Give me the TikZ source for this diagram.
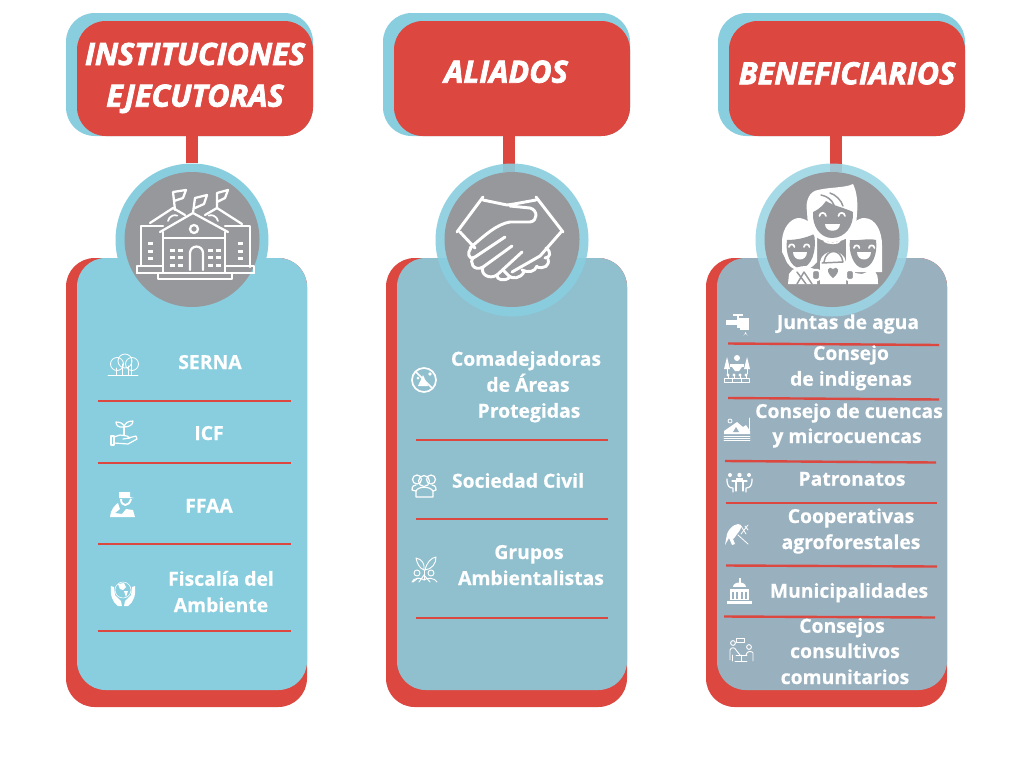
\documentclass[tikz,border=0pt]{standalone}
\usepackage{fontspec}
\setmainfont{Open Sans}[BoldFeatures={FakeBold=0.5}]
\newfontfamily\hdrfont[BoldItalicFeatures={FakeBold=2.4}]{Open Sans}
\definecolor{cred}{HTML}{DC4840}
\definecolor{cblue}{HTML}{89CEDF}
\definecolor{cbody}{HTML}{90BFCE}
\definecolor{cbodyc}{HTML}{99B0BE}
\definecolor{cgrey}{HTML}{97989C}
\tikzset{
 card/.style={rectangle,rounded corners=21.5pt,inner sep=0pt,draw=none},
 hback/.style={card,fill=cblue,minimum width=247*0.75pt,minimum height=123*0.75pt},
 hfront/.style={card,fill=cred,minimum width=236*0.75pt,minimum height=115*0.75pt},
 bback/.style={card,fill=cred,minimum width=241*0.75pt,minimum height=449*0.75pt},
 bfront/.style={card,minimum width=230*0.75pt,minimum height=432*0.75pt},
 ring/.style={circle,inner sep=0pt,minimum size=153*0.75pt},
 disc/.style={circle,inner sep=0pt,fill=cgrey,minimum size=135*0.75pt},
 link/.style={cred,line width=9pt},
 rule/.style={cred,line width=1.8pt},
 htext/.style={text=white,font=\hdrfont\fontsize{23}{26}\selectfont\bfseries\itshape,inner sep=0pt,anchor=base},
 itext/.style={text=white,font=\fontsize{14.5}{17}\selectfont\bfseries,inner sep=0pt,anchor=base},
 ico/.style={draw=white,line width=1.7pt,line cap=round,line join=round},
 ics/.style={draw=white,line width=0.6pt,line cap=round,line join=round},
 icm/.style={draw=white,line width=0.9pt,line cap=round,line join=round},
 gl/.style={draw=cgrey,line width=1.1pt,line cap=round,line join=round},
}
\begin{document}
\begin{tikzpicture}[x=0.75pt,y=-0.75pt]
\useasboundingbox (0,0) rectangle (1024,768);
\fill[white] (0,0) rectangle (1024,768);
% column 1
\node[hback] (h1b) at (189.5,74.5) {};
\node[hfront] (h1f) at (195,78.5) {};
\node[bback] (b1b) at (186.5,482.5) {};
\node[bfront,fill=cblue] (b1f) at (192,474) {};
\node[ring,fill=cblue] (r1) at (192,240) {};
\draw[link] (h1f.south -| r1) -- (r1.north);
\node[disc] (d1) at (192,239.5) {};
% column 2
\node[hback] (h2b) at (506.5,74.5) {};
\node[hfront] (h2f) at (512,78.5) {};
\node[bback] (b2b) at (506.5,482.5) {};
\node[bfront,fill=cbody] (b2f) at (512,474) {};
\coordinate (l2a) at (509,136);
\coordinate (l2b) at (509,172);
\draw[link] (l2a) -- (l2b);
\node[ring,fill=cblue,opacity=.9] (r2) at (512,240) {};
\node[disc] (d2) at (512,239.5) {};
% column 3
\node[hback] (h3b) at (841.5,74.5) {};
\node[hfront] (h3f) at (847,78.5) {};
\node[bback] (b3b) at (826.5,482.5) {};
\node[bfront,fill=cbodyc] (b3f) at (832,474) {};
\coordinate (l3a) at (836,136);
\coordinate (l3b) at (836,172);
\draw[link] (l3a) -- (l3b);
\node[ring,fill=cblue!85!white,opacity=.88] (r3) at (832,240) {};
\node[disc] (d3) at (832,239.5) {};
% headers
\node[htext] (t1a) at (195,65) {INSTITUCIONES};
\node[htext] (t1b) at (195,106.7) {EJECUTORAS};
\node[htext] (t2) at (506,82.7) {ALIADOS};
\node[htext] (t3) at (847,84.3) {BENEFICIARIOS};
% rules col 1
\coordinate (a1) at (98,401); \coordinate (a2) at (291,401);
\coordinate (a3) at (98,463); \coordinate (a4) at (291,463);
\coordinate (a5) at (98,544); \coordinate (a6) at (291,544);
\coordinate (a7) at (98,631); \coordinate (a8) at (291,631);
\draw[rule] (a1)--(a2); \draw[rule] (a3)--(a4); \draw[rule] (a5)--(a6); \draw[rule] (a7)--(a8);
% rules col 2
\coordinate (e1) at (416,440); \coordinate (e2) at (608,440);
\coordinate (e3) at (416,519); \coordinate (e4) at (608,519);
\coordinate (e5) at (416,618); \coordinate (e6) at (608,618);
\draw[rule] (e1)--(e2); \draw[rule] (e3)--(e4); \draw[rule] (e5)--(e6);
% rules col 3
\coordinate (g1) at (728,343.5); \coordinate (g2) at (939,345);
\coordinate (g3) at (728,398); \coordinate (g4) at (939,399.5);
\coordinate (g5) at (725,461); \coordinate (g6) at (936,462.5);
\coordinate (g7) at (726,503); \coordinate (g8) at (937,503);
\coordinate (g9) at (726,565.5); \coordinate (g10) at (937,566.5);
\coordinate (g11) at (724,616.5); \coordinate (g12) at (935,617.5);
\draw[rule] (g1)--(g2); \draw[rule] (g3)--(g4); \draw[rule] (g5)--(g6);
\draw[rule] (g7)--(g8); \draw[rule] (g9)--(g10); \draw[rule] (g11)--(g12);
% texts col 1
\node[itext] (s1) at (210,369) {SERNA};
\node[itext] (s2) at (209,440) {ICF};
\node[itext] (s3) at (209,512.7) {FFAA};
\node[itext] (s4) at (221,585.7) {Fiscalía del};
\node[itext] (s5) at (221,612) {Ambiente};
% texts col 2
\node[itext] (m1) at (526,365.7) {Comadejadoras};
\node[itext] (m2) at (528,391.7) {de Áreas};
\node[itext] (m3) at (529,417.7) {Protegidas};
\node[itext] (m4) at (518,487.7) {Sociedad Civil};
\node[itext] (m5) at (529,559) {Grupos};
\node[itext] (m6) at (531,585) {Ambientalistas};
% texts col 3
\node[itext] (n1) at (848,329) {Juntas de agua};
\node[itext] (n2) at (851,360) {Consejo};
\node[itext] (n3) at (851,385.7) {de indigenas};
\node[itext] (n4) at (849,418) {Consejo de cuencas};
\node[itext] (n5) at (847,443) {y microcuencas};
\node[itext] (n6) at (852,485.7) {Patronatos};
\node[itext] (n7) at (851,523) {Cooperativas};
\node[itext] (n8) at (851,549) {agroforestales};
\node[itext] (n9) at (849,597.7) {Municipalidades};
\node[itext] (n10) at (842,632.7) {Consejos};
\node[itext] (n11) at (845,658) {consultivos};
\node[itext] (n12) at (845,684) {comunitarios};
% ---------- building
\begin{scope}[ico]
\draw (163,232) -- (163,272);
\draw (225,232) -- (225,272);
\draw (160,232) -- (193,213) -- (228,232);
\draw (163,238) -- (225,238);
\draw (193,213) -- (195,198);
\draw (195,198) -- (207,195) -- (204,204) -- (195,208);
\draw (150,223) -- (173,208) -- (185,215);
\draw (205,215) -- (217,208) -- (242,224);
\draw (175,210) -- (173,192) -- (186,190) -- (183,198) -- (174,201);
\draw (217,208) -- (217,193) -- (228,190) -- (225,198) -- (217,202);
\draw (141,265) -- (141,226) -- (163,226);
\draw (250,267) -- (250,226) -- (225,226);
\draw (137,273) -- (137,266) -- (163,266);
\draw (254,273) -- (254,266) -- (225,266);
\draw (137,273) -- (158,273);
\draw (254,273) -- (232,273);
\draw (158,279) -- (232,279) -- (232,273) -- (158,273) -- cycle;
\draw (190,270) -- (190,253) arc[start angle=180,end angle=360,radius=6.5] -- (203,270);
\draw (194,229) circle[radius=4];
\end{scope}
\draw[icm,line width=1.3pt] (168,221) arc[start angle=190,end angle=290,radius=7];
\draw[icm,line width=1.3pt] (218,221) arc[start angle=-10,end angle=-110,radius=7];
\foreach \y in {250,257,265}{\foreach \x in {172,180,210,218}{\fill[white] (\x-2.5,\y-1.5) rectangle (\x+2.5,\y+1.5);}}
\foreach \y in {243,251,258}{\foreach \x in {150,240}{\fill[white] (\x-2.5,\y-1.5) rectangle (\x+2.5,\y+1.5);}}
% ---------- handshake
\begin{scope}[ico,line width=2.2pt]
\draw (457,232) -- (483,197);
\draw (536,197) -- (563,232);
\draw (483,200) -- (507,205) -- (514,204) -- (536,200);
\draw (510,206) -- (530,208) .. controls (538,210) and (538,221) .. (530,222) -- (510,222) .. controls (497,224) and (485,235) .. (470,248);
\draw (460,232) -- (475,248);
\draw (505,237) -- (475,257) .. controls (468,261) and (467,252) .. (471,248);
\draw (512,246) -- (483,267) .. controls (474,272) and (468,262) .. (474,257);
\draw (522,252) -- (497,275) .. controls (489,280) and (480,274) .. (483,267);
\draw (503,270) -- (510,277) .. controls (505,282) and (496,280) .. (497,275);
\draw (561,232) -- (540,256) -- (512,272);
\draw (546,248) .. controls (552,252) and (550,258) .. (545,258);
\draw (548,259) .. controls (550,266) and (544,269) .. (537,267);
\draw (537,266) .. controls (535,272) and (528,273) .. (522,270);
\draw (524,272) .. controls (520,279) and (512,279) .. (509,276);
\end{scope}
% ---------- family
% child (left)
\fill[white] (782,240) .. controls (783,228) and (790,219) .. (798,218) .. controls (806,218) and (813,224) .. (817,232) -- (817,262) .. controls (808,274) and (790,274) .. (785,258) -- (782,252) -- cycle;
\fill[cgrey] (787,240) .. controls (796,240) and (806,238) .. (814,234) .. controls (817,250) and (812,268) .. (800,268) .. controls (790,268) and (785,252) .. (787,240) -- cycle;
% woman (right)
\fill[white] (846,236) .. controls (850,224) and (858,218) .. (864,218) .. controls (876,218) and (882,232) .. (882,245) -- (882,272) -- (846,272) -- cycle;
\fill[cgrey] (850,240) .. controls (858,241) and (868,238) .. (876,240) .. controls (878,254) and (872,268) .. (863,268) .. controls (854,268) and (848,252) .. (850,240) -- cycle;
% man
\fill[white] (807,212) .. controls (805,200) and (810,191) .. (818,190) .. controls (830,187) and (845,188) .. (853,184) .. controls (857,192) and (858,203) .. (857,214) -- (856,226) .. controls (852,238) and (842,242) .. (832,242) .. controls (820,242) and (811,235) .. (808,226) -- cycle;
\fill[cgrey] (813,212) .. controls (820,209) and (824,204) .. (826,201) .. controls (834,206) and (845,208) .. (853,212) .. controls (854,226) and (845,238) .. (832,238) .. controls (820,238) and (812,226) .. (813,212) -- cycle;
\draw[gl] (821,195) .. controls (827,196) and (832,200) .. (834,205);
\draw[gl] (830,193) .. controls (836,195) and (841,200) .. (843,206);
% faces
\begin{scope}[ico,line width=1.3pt]
\draw (819.5,216) arc[start angle=180,end angle=360,radius=3.2];
\draw (838.5,216) arc[start angle=180,end angle=360,radius=3.2];
\draw (789,247) arc[start angle=180,end angle=360,radius=2.7];
\draw (804,247) arc[start angle=180,end angle=360,radius=2.7];
\draw (854,248) arc[start angle=180,end angle=360,radius=2.7];
\draw (869,248) arc[start angle=180,end angle=360,radius=2.7];
\end{scope}
\fill[white] (825,224) -- (840,224) .. controls (840,233) and (825,233) .. (825,224) -- cycle;
\fill[white] (793,252) -- (807,252) .. controls (807,262) and (793,262) .. (793,252) -- cycle;
\fill[white] (857,252) -- (871,252) .. controls (871,262) and (857,262) .. (857,252) -- cycle;
% bodies
\fill[white] (788,284) -- (789,274) .. controls (792,268) and (800,266) .. (806,266) -- (817,270) -- (817,284) -- cycle;
\fill[white] (848,284) -- (848,272) -- (862,274) -- (872,270) .. controls (878,272) and (878,278) .. (878,284) -- cycle;
\fill[white] (820,284) -- (820,262) .. controls (822,248) and (844,248) .. (846,262) -- (846,284) -- cycle;
\draw[gl] (824,262) .. controls (826,248) and (841,248) .. (843,262) -- (822,263);
\draw[white,line width=1.3pt] (824,241) .. controls (828,244) and (838,244) .. (840,241);
\draw[gl] (797,284) -- (804,272) -- (812,284);
\draw[gl] (797,272) -- (806,284);
\draw[white,line width=1.6pt,fill=cgrey,rounded corners=2pt] (812,270) rectangle (820,280);
\draw[white,line width=1.6pt,fill=cgrey,rounded corners=2pt] (846,270) rectangle (854,280);
\fill[cgrey] (833,278) .. controls (824,271) and (829,265) .. (833,269) .. controls (837,265) and (842,271) .. (833,278) -- cycle;
% ---------- SERNA trees
\begin{scope}[ics]
\draw (108,375) -- (138,375);
\draw (117,364) circle[radius=6.5];
\draw (125,361) circle[radius=7];
\draw (132,364) circle[radius=6.5];
\draw (116,368) -- (116,375);
\draw (122,364) -- (122,375);
\draw (128,366) -- (128,375);
\draw (131,360) -- (131,375);
\end{scope}
% ---------- ICF hand and plant
\begin{scope}[icm]
\draw (111,436) rectangle (114,445);
\draw (114,437) -- (120,435) -- (127,436) -- (130,438) -- (123,439);
\draw (128,438) -- (136,436) -- (137,439) -- (128,444) -- (114,443);
\draw (124,435) -- (124,427);
\draw (124,427) .. controls (118,428) and (116,425) .. (116,422) .. controls (121,422) and (124,424) .. (124,427);
\draw (124,427) .. controls (125,423) and (128,421) .. (133,421) .. controls (133,425) and (129,427) .. (124,427);
\end{scope}
% ---------- FFAA soldier
\fill[white] (119,492) -- (130,492) -- (130,497) -- (134,498) -- (119,498) -- cycle;
\draw[white,line width=1.4pt] (121,499) .. controls (121,507) and (129,507) .. (131,499);
\fill[white] (110,517) .. controls (110,510) and (116,504) .. (118,503) -- (120,509) -- (115,513) -- (122,514) -- (126,509) -- (133,510) -- (135,517) -- cycle;
% ---------- globe in hands
\fill[white] (111,586) .. controls (110,594) and (112,602) .. (118,606) -- (122,606) -- (121,601) -- (115,595) -- (114,587) -- cycle;
\fill[white] (135,586) .. controls (136,594) and (134,602) .. (128,606) -- (124,606) -- (125,601) -- (131,595) -- (132,587) -- cycle;
\draw[white,line width=.4pt] (123,590) circle[radius=8];
\fill[white] (118,584) -- (124,583) -- (126,587) -- (123,590) -- (120,589) -- cycle;
\fill[white] (124,591) -- (128,591) -- (126,597) -- cycle;
% ---------- no-tree sign
\begin{scope}[icm,line width=1.3pt]
\draw (424,380) circle[radius=12];
\draw (416,372) -- (432,388);
\end{scope}
\fill[white] (423,375) -- (428,386) -- (418,386) -- cycle;
\fill[white] (430,374) circle[radius=1.8];
\fill[white] (418,378) circle[radius=1.5];
% ---------- people
\begin{scope}[icm]
\draw (424,481) circle[radius=5.5];
\draw (417,479.5) circle[radius=4.5];
\draw (431,479.5) circle[radius=4.5];
\draw (416,497) -- (416,491) .. controls (418,486) and (430,486) .. (433,491) -- (433,497) -- cycle;
\draw (416,491) -- (412,490) .. controls (412,486) and (414,485) .. (416,485);
\draw (433,491) -- (436,490) .. controls (436,486) and (434,485) .. (432,485);
\end{scope}
% ---------- env groups
\begin{scope}[ics,line width=.7pt]
\draw (424,570) .. controls (419,568) and (417,563) .. (416,558) .. controls (422,559) and (425,564) .. (424,570);
\draw (425,570) .. controls (427,562) and (431,558) .. (436,557) .. controls (436,564) and (432,569) .. (425,570);
\draw (424,570) -- (424,580);
\draw (417,573) circle[radius=3];
\draw (431,573) circle[radius=3];
\draw (412,582) .. controls (413,578) and (421,577) .. (424,580) .. controls (427,577) and (435,578) .. (437,582);
\draw (413,582) -- (418,578);
\draw (419,582) -- (424,575);
\draw (430,582) -- (424,575);
\end{scope}
% ---------- tap
\fill[white] (726,320) rectangle (740,325);
\fill[white] (737,318) rectangle (749,328);
\fill[white] (740,323) rectangle (749,330);
\fill[white] (733,314) rectangle (743,316);
\fill[white] (737,314) rectangle (739,320);
\fill[white] (745.5,332) -- (743.5,336) arc[start angle=180,end angle=360,radius=2] -- cycle;
% ---------- indigenous council
\fill[white] (727,357) -- (730,369) -- (724,369) -- cycle;
\fill[white] (747,357) -- (750,369) -- (744,369) -- cycle;
\fill[white] (737,358) circle[radius=3];
\fill[white] (730,364) rectangle (744,367);
\fill[white] (732,367) -- (742,367) -- (739,371) -- (735,371) -- cycle;
\begin{scope}[ics]
\draw (724,378) rectangle (749,382);
\draw (732,378) -- (732,382);
\draw (741,378) -- (741,382);
\draw (727,369) -- (727,374);
\draw (747,369) -- (747,374);
\end{scope}
\foreach \x in {728,734,740,746}{\fill[white] (\x,375) circle[radius=1.7];\draw[white,line width=.6pt] (\x,375)--(\x,378);}
% ---------- basins
\fill[white] (724,431) -- (737,422) -- (743,427) -- (746,425) -- (750,431) -- (750,434) -- (724,434) -- cycle;
\fill[cbodyc] (733,432) -- (736,427) -- (739,432) -- cycle;
\begin{scope}[ics]
\draw (724,436) -- (750,436);
\draw (724,438) -- (750,438);
\draw (724,440) -- (750,440);
\draw (730,421) circle[radius=2];
\draw (749.5,418) -- (749.5,430);
\end{scope}
% ---------- table
\begin{scope}[icm]
\draw (732,481) -- (747,481);
\draw (736,481) -- (736,491);
\draw (743,481) -- (743,491);
\draw (727,479) .. controls (727,486) and (729,488) .. (733,488) -- (733,492);
\draw (752,479) .. controls (752,486) and (750,488) .. (746,488) -- (746,492);
\end{scope}
\fill[white] (739.5,475) circle[radius=2.2];
\fill[white] (736,477.5) rectangle (743,480);
\fill[white] (730,475) circle[radius=2];
\fill[white] (749,475) circle[radius=2];
% ---------- farmer
\fill[white] (725,545) -- (727,534) .. controls (730,526) and (738,522) .. (741,525) .. controls (742,530) and (737,533) .. (735,537) -- (733,539) -- (735,544) -- (732,545) -- (729,538) -- cycle;
\begin{scope}[ics]
\draw (738,535) -- (748,544);
\draw (741,526) -- (746,534);
\draw (745,526) -- (748,530);
\draw (748,525) -- (741,534);
\end{scope}
% ---------- town hall
\fill[white] (727,601) rectangle (752,604);
\fill[white] (730,589) rectangle (749,600);
\fill[white] (733,587) .. controls (733,581) and (746,581) .. (746,587) -- cycle;
\fill[white] (738.5,578) rectangle (740.5,583);
\foreach \x in {733,737,742,746}{\fill[cbodyc] (\x-1,592) rectangle (\x+1,599);}
\fill[cbodyc] (730,588) rectangle (749,589);
% ---------- consultative
\begin{scope}[ics,line width=.7pt]
\draw (736,638) rectangle (744,642);
\draw (733,643) circle[radius=2.4];
\draw (730,660) -- (730,650) .. controls (731,647) and (735,647) .. (736,650) -- (740,655);
\draw (736,655) -- (747,655);
\draw (741,655) -- (741,661);
\draw (735,661) -- (747,661);
\draw (749,647) circle[radius=2.4];
\draw (753,661) -- (753,653) .. controls (752,651) and (748,651) .. (747,653) -- (746,655);
\draw (732,661) -- (732,655);
\end{scope}
\end{tikzpicture}
\end{document}
